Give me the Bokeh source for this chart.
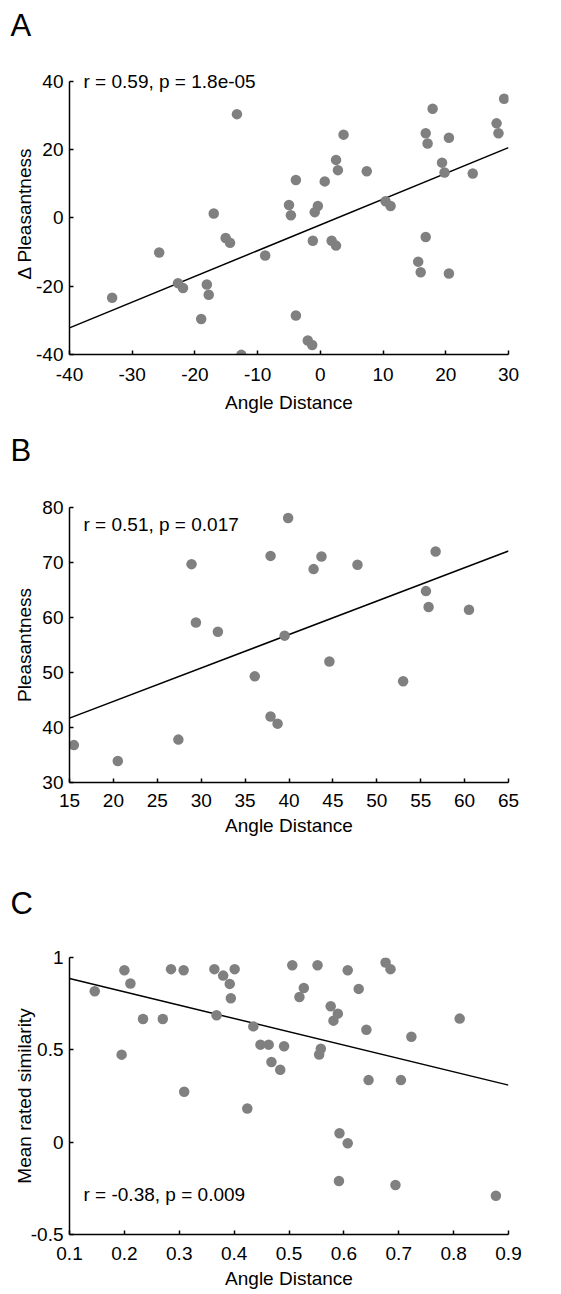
from bokeh.plotting import figure
from bokeh.models import Label, Range1d, FixedTicker, NumeralTickFormatter, Title
from bokeh.layouts import column
from bokeh.embed import file_html
from bokeh.resources import INLINE

FONT = "Liberation Sans"

# ---------------- Panel A data ----------------
a_x = [-13.3, 29.3, 17.9, 28.1, 28.4, 16.8, 17.1, 20.5, 3.7, 2.5, 2.8, 7.4, 19.4, 19.8, 24.3,
       -3.9, 0.7, 10.4, 11.2, -5.0, -4.7, -0.4, -0.9, -17.0, -15.1, -14.4, -1.2, 1.8, 2.5,
       -25.7, -8.8, 16.8, 15.6, 16.0, 20.5, -22.7, -21.9, -18.1, -17.8, -33.2, -19.0, -3.9,
       -2.0, -1.3, -12.6]
a_y = [30.4, 34.9, 32.0, 27.7, 24.8, 24.8, 21.8, 23.5, 24.4, 17.0, 14.0, 13.7, 16.2, 13.3, 13.0,
       11.1, 10.7, 4.9, 3.5, 3.8, 0.8, 3.5, 1.7, 1.3, -5.9, -7.3, -6.7, -6.7, -8.1,
       -10.1, -11.0, -5.6, -12.8, -15.9, -16.3, -19.1, -20.5, -19.5, -22.5, -23.4, -29.6, -28.6,
       -35.9, -37.2, -40.1]
a_fit_x = [-40, 30]
a_fit_y = [-32.2, 20.6]
a_xticks = [-40, -30, -20, -10, 0, 10, 20, 30]
a_yticks = [-40, -20, 0, 20, 40]

# ---------------- Panel B data ----------------
b_x = [39.9, 28.9, 37.9, 43.7, 42.8, 47.8, 56.7, 55.6, 55.9, 60.5, 29.4, 31.9, 39.5, 44.6,
       36.1, 53.0, 37.9, 38.7, 27.4, 15.5, 20.5]
b_y = [78.1, 69.7, 71.2, 71.1, 68.8, 69.6, 72.0, 64.8, 61.9, 61.4, 59.1, 57.4, 56.7, 52.0,
       49.3, 48.4, 42.0, 40.7, 37.8, 36.8, 33.9]
b_fit_x = [15, 65]
b_fit_y = [41.7, 72.1]
b_xticks = [15, 20, 25, 30, 35, 40, 45, 50, 55, 60, 65]
b_yticks = [30, 40, 50, 60, 70, 80]

# ---------------- Panel C data ----------------
c_x = [0.146, 0.200, 0.211, 0.234, 0.270, 0.195, 0.285, 0.308, 0.364, 0.380, 0.401, 0.392,
       0.394, 0.368, 0.435, 0.448, 0.463, 0.491, 0.468, 0.484, 0.506, 0.552, 0.519, 0.527,
       0.558, 0.555, 0.576, 0.589, 0.581, 0.607, 0.627, 0.641, 0.676, 0.685, 0.723, 0.811,
       0.645, 0.704, 0.309, 0.424, 0.592, 0.607, 0.591, 0.694, 0.877]
c_y = [0.817, 0.931, 0.859, 0.667, 0.667, 0.474, 0.937, 0.931, 0.937, 0.902, 0.937, 0.857,
       0.779, 0.687, 0.627, 0.528, 0.528, 0.519, 0.434, 0.392, 0.958, 0.958, 0.786, 0.835,
       0.506, 0.475, 0.736, 0.696, 0.658, 0.931, 0.830, 0.609, 0.973, 0.937, 0.571, 0.669,
       0.336, 0.336, 0.273, 0.182, 0.048, -0.006, -0.210, -0.232, -0.290]
c_fit_x = [0.1, 0.9]
c_fit_y = [0.886, 0.309]
c_xticks = [0.1, 0.2, 0.3, 0.4, 0.5, 0.6, 0.7, 0.8, 0.9]
c_yticks = [-0.5, 0, 0.5, 1]

DOT = "#808080"


def panel(xs, ys, fx, fy, xr, yr, ybounds, xticks, yticks, ylabel, letter, stat,
          fh, tb, bb, fmt, y_lab_standoff, x_tick_standoff, x_lab_standoff,
          spacer_standoff, stat_y):
    p = figure(frame_width=439, frame_height=fh,
               min_border_left=69, min_border_right=45,
               min_border_top=tb, min_border_bottom=bb,
               x_range=Range1d(*xr), y_range=Range1d(*yr),
               output_backend="svg", toolbar_location=None)
    p.grid.visible = False
    p.outline_line_color = None
    p.background_fill_color = "white"
    p.border_fill_color = "white"

    p.line(fx, fy, line_color="black", line_width=1.5)
    p.scatter(xs, ys, size=10.5, fill_color=DOT, line_color=None)

    p.xaxis.ticker = FixedTicker(ticks=xticks)
    p.yaxis.ticker = FixedTicker(ticks=yticks)
    p.yaxis.bounds = ybounds
    p.xaxis.formatter = NumeralTickFormatter(format=fmt[0])
    p.yaxis.formatter = NumeralTickFormatter(format=fmt[1])
    p.xaxis.axis_label = "Angle Distance"
    p.yaxis.axis_label = ylabel
    for ax in (p.xaxis[0], p.yaxis[0]):
        ax.axis_line_color = "black"
        ax.axis_line_width = 1.5
        ax.major_tick_line_color = "black"
        ax.major_tick_line_width = 1.5
        ax.major_tick_in = 4
        ax.major_tick_out = 0
        ax.minor_tick_line_color = None
        ax.major_label_text_font = FONT
        ax.major_label_text_font_size = "19px"
        ax.major_label_text_color = "black"
        ax.axis_label_text_font = FONT
        ax.axis_label_text_font_size = "19px"
        ax.axis_label_text_font_style = "normal"
        ax.axis_label_text_color = "black"
    p.yaxis.major_label_standoff = 6
    p.yaxis.axis_label_standoff = y_lab_standoff
    p.xaxis.major_label_standoff = x_tick_standoff
    p.xaxis.axis_label_standoff = x_lab_standoff

    # spacer (closest to the frame) then the panel letter above it
    p.add_layout(Title(text=" ", text_font=FONT, text_font_size="10px",
                       standoff=spacer_standoff), "above")
    p.add_layout(Title(text=letter, text_font=FONT, text_font_size="31px",
                       text_font_style="normal", text_color="black",
                       align="left", offset=-59, vertical_align="top",
                       standoff=0), "above")

    p.add_layout(Label(x=14, y=stat_y, x_units="screen", y_units="screen",
                       text=stat, text_font=FONT, text_font_size="19px",
                       text_color="black", text_baseline="alphabetic"))
    return p


pa = panel(a_x, a_y, a_fit_x, a_fit_y, (-40, 30), (-40, 42.6), (-40, 40), a_xticks, a_yticks,
           "\u0394 Pleasantness", "A", "r = 0.59, p = 1.8e-05",
           fh=282, tb=72, bb=76, fmt=("0", "0"), y_lab_standoff=-2,
           x_tick_standoff=13, x_lab_standoff=8, spacer_standoff=15, stat_y=273)
pb = panel(b_x, b_y, b_fit_x, b_fit_y, (15, 65), (30, 80), (30, 80), b_xticks, b_yticks,
           "Pleasantness", "B", "r = 0.51, p = 0.017",
           fh=275, tb=77, bb=88, fmt=("0", "0"), y_lab_standoff=4,
           x_tick_standoff=11, x_lab_standoff=5, spacer_standoff=25, stat_y=258)
pc = panel(c_x, c_y, c_fit_x, c_fit_y, (0.1, 0.9), (-0.5, 1), (-0.5, 1), c_xticks, c_yticks,
           "Mean rated similarity", "C", "r = -0.38, p = 0.009",
           fh=277, tb=87, bb=60, fmt=("0.[0]", "0.[0]"), y_lab_standoff=-7,
           x_tick_standoff=12, x_lab_standoff=5, spacer_standoff=22, stat_y=40)

layout = column(pa, pb, pc)
open("out.html", "w").write(file_html(layout, INLINE))
